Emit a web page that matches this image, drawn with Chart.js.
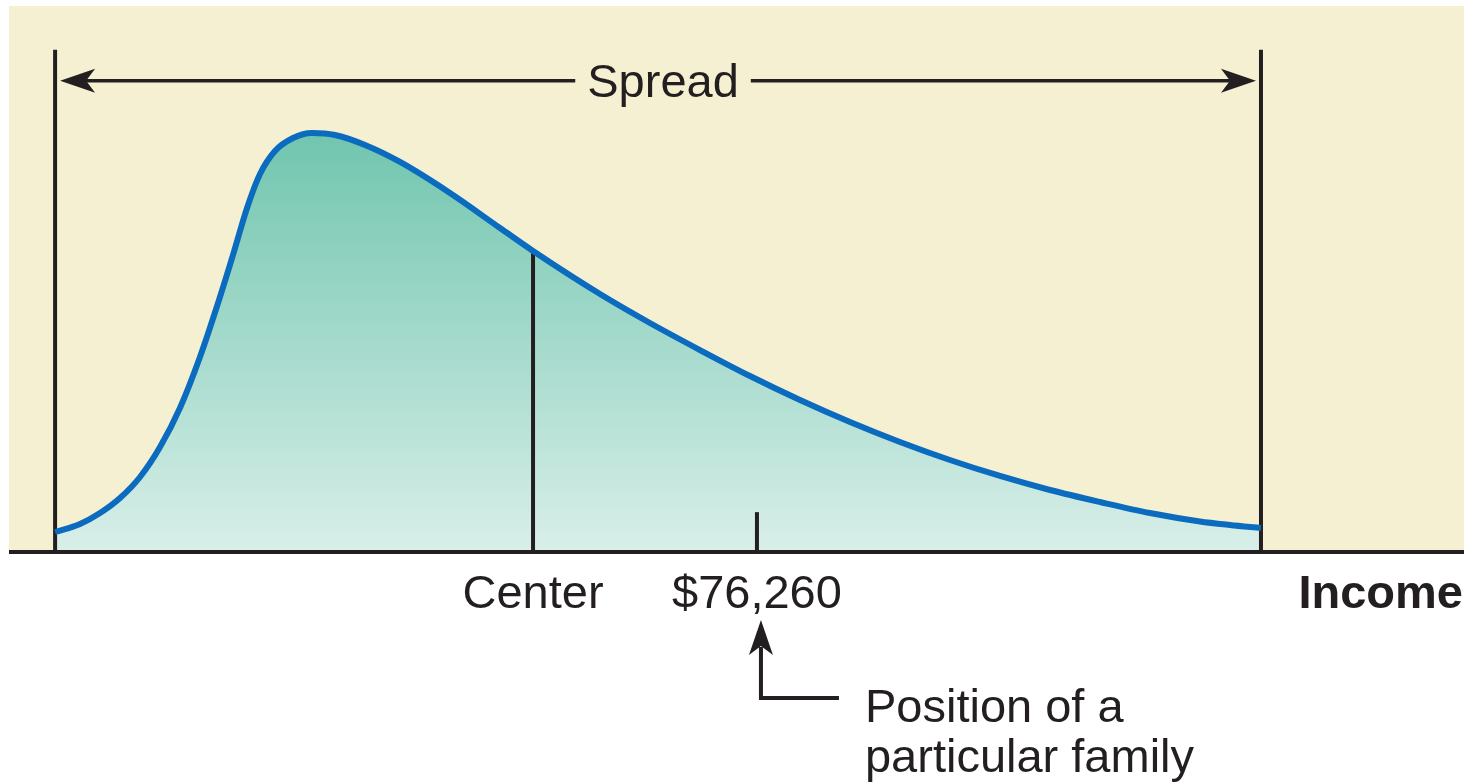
<!DOCTYPE html>
<html>
<head>
<meta charset="utf-8">
<script src="https://cdn.jsdelivr.net/npm/chart.js@4/dist/chart.umd.min.js"></script>
<style>
  html, body { margin: 0; padding: 0; background: #ffffff; }
  #wrap { width: 1477px; height: 784px; position: relative; }
</style>
</head>
<body>
<div id="wrap"><canvas id="incomeChart"></canvas></div>
<script>
// income in thousands of dollars, density in arbitrary units (0-100)
const incomeK = [4.7, 7.24, 9.28, 11.32, 13.36, 15.40, 17.43, 19.47, 21.51, 22.84, 24.27, 25.59, 27.12, 28.96, 30.89, 33.24, 36.30, 39.87, 44.96, 50.06, 53.43, 60.26, 65.35, 70.45, 75.55, 80.65, 85.75, 90.84, 95.94, 101.04, 106.14, 111.24, 116.33, 121.43, 124.49, 127.65];
const density = [3.66, 5.13, 7.14, 9.89, 13.74, 19.23, 26.37, 35.71, 46.70, 54.40, 63.00, 69.23, 73.44, 75.82, 76.74, 76.37, 74.54, 71.43, 65.75, 59.34, 55.13, 47.25, 41.94, 36.99, 32.23, 27.84, 23.81, 20.15, 16.85, 13.92, 11.36, 9.16, 7.14, 5.59, 4.95, 4.40];

const centerIncome = 53.43;
const centerDensity = 54.8;
const familyIncome = 76.26;
const familyTickHeight = 7.3;
const spreadLineTop = 92;
const spreadArrowLevel = 86.3;

const axisLabels = { center: "Center", family: "$76,260", axis: "Income", spread: "Spread" };
const noteLines = ["Position of a", "particular family"];

const ink = "#231f20";
const font = (w) => `${w} 47px "Liberation Sans", Arial, Helvetica, sans-serif`;

const curvePoints = incomeK.map((x, i) => ({ x: x, y: density[i] }));
const spreadMin = incomeK[0];
const spreadMax = incomeK[incomeK.length - 1];

function vline(x, top) {
    return {
        data: [{ x: x, y: 0 }, { x: x, y: top }],
        borderColor: ink,
        borderWidth: 4,
        pointRadius: 0,
        fill: false,
        tension: 0,
    };
}

function arrowHead(ctx, tipX, tipY, dirX, dirY) {
    // dir points from tip back along the shaft
    const len = 35, half = 12, notch = 26;
    const px = -dirY, py = dirX;
    ctx.beginPath();
    ctx.moveTo(tipX, tipY);
    ctx.lineTo(tipX + dirX * len + px * half, tipY + dirY * len + py * half);
    ctx.lineTo(tipX + dirX * notch, tipY + dirY * notch);
    ctx.lineTo(tipX + dirX * len - px * half, tipY + dirY * len - py * half);
    ctx.closePath();
    ctx.fill();
}

const backdrop = {
    id: "backdrop",
    beforeDraw(chart) {
        const { ctx, chartArea } = chart;
        ctx.save();
        ctx.fillStyle = "#f6f0d3";
        ctx.fillRect(chartArea.left, chartArea.top, chartArea.right - chartArea.left, chartArea.bottom - chartArea.top);
        ctx.restore();
    },
};

const annotations = {
    id: "annotations",
    afterDraw(chart) {
        const { ctx, chartArea } = chart;
        const xs = chart.scales.x, ys = chart.scales.y;
        const y0 = ys.getPixelForValue(0);
        ctx.save();
        ctx.strokeStyle = ink;
        ctx.fillStyle = ink;
        ctx.lineWidth = 4;

        // income axis
        ctx.beginPath();
        ctx.moveTo(chartArea.left, y0);
        ctx.lineTo(chartArea.right, y0);
        ctx.stroke();

        // spread arrow
        const xl = xs.getPixelForValue(spreadMin);
        const xr = xs.getPixelForValue(spreadMax);
        const ya = ys.getPixelForValue(spreadArrowLevel);
        const mid = (xl + xr) / 2 + 5;
        ctx.font = font("normal");
        const tw = ctx.measureText(axisLabels.spread).width;
        ctx.lineWidth = 3.5;
        ctx.beginPath();
        ctx.moveTo(xl + 30, ya);
        ctx.lineTo(mid - tw / 2 - 12, ya);
        ctx.moveTo(mid + tw / 2 + 12, ya);
        ctx.lineTo(xr - 30, ya);
        ctx.stroke();
        arrowHead(ctx, xl + 5, ya, 1, 0);
        arrowHead(ctx, xr - 5, ya, -1, 0);
        ctx.textAlign = "center";
        ctx.textBaseline = "alphabetic";
        ctx.fillText(axisLabels.spread, mid, ya + 16);

        // labels under the axis
        ctx.fillText(axisLabels.center, xs.getPixelForValue(centerIncome), y0 + 56);
        const xf = xs.getPixelForValue(familyIncome);
        ctx.fillText(axisLabels.family, xf, y0 + 56);
        ctx.textAlign = "right";
        ctx.font = font("bold");
        ctx.fillText(axisLabels.axis, chartArea.right - 1, y0 + 56);

        // pointer to the family
        const xa = xf + 4;
        ctx.lineWidth = 4;
        ctx.beginPath();
        ctx.moveTo(xa, y0 + 95);
        ctx.lineTo(xa, y0 + 146);
        ctx.lineTo(xa + 78, y0 + 146);
        ctx.stroke();
        arrowHead(ctx, xa, y0 + 68, 0, 1);

        ctx.font = font("normal");
        ctx.textAlign = "left";
        ctx.fillText(noteLines[0], xa + 104, y0 + 170);
        ctx.fillText(noteLines[1], xa + 104, y0 + 220);
        ctx.restore();
    },
};

const incomeChart = new Chart(document.getElementById("incomeChart"), {
    type: "line",
    data: {
        datasets: [
            {
                label: "Income distribution",
                data: curvePoints,
                borderColor: "#0a6bbf",
                borderWidth: 6,
                pointRadius: 0,
                cubicInterpolationMode: "monotone",
                fill: "origin",
                backgroundColor: (context) => {
                    const area = context.chart.chartArea;
                    if (!area) return "#9fd8c8";
                    const ys = context.chart.scales.y;
                    const g = context.chart.ctx.createLinearGradient(0, ys.getPixelForValue(77), 0, ys.getPixelForValue(0));
                    g.addColorStop(0, "#70c5ae");
                    g.addColorStop(1, "#d9efe9");
                    return g;
                },
            },
            vline(spreadMin, spreadLineTop),
            vline(spreadMax, spreadLineTop),
            vline(centerIncome, centerDensity),
            vline(familyIncome, familyTickHeight),
        ],
    },
    options: {
        responsive: true,
        maintainAspectRatio: false,
        animation: false,
        layout: { padding: { left: 9, right: 13, top: 6, bottom: 232 } },
        plugins: {
            legend: { display: false },
            tooltip: { enabled: false },
            filler: { drawTime: "beforeDatasetsDraw" },
        },
        scales: {
            x: { type: "linear", min: 0, max: 148.35, display: false },
            y: { min: 0, max: 100, display: false },
        },
    },
    plugins: [backdrop, annotations],
});
</script>
</body>
</html>
